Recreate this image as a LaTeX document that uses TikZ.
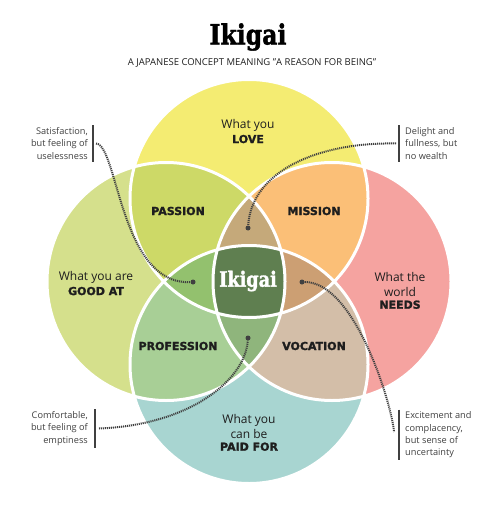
\documentclass[tikz,border=0pt]{standalone}
\usepackage{fontspec}
\setmainfont{Open Sans}
\newfontfamily\heavyfont[BoldFeatures={FakeBold=1.6}]{DejaVu Sans}
\newfontfamily\slabfont[FakeStretch=0.84, BoldFeatures={FakeBold=1.5}]{DejaVu Serif}
\usetikzlibrary{positioning}

\definecolor{love}{HTML}{F4EC72}
\definecolor{goodat}{HTML}{D5E08C}
\definecolor{needs}{HTML}{F5A3A0}
\definecolor{paidfor}{HTML}{A8D5D1}
\definecolor{passion}{HTML}{CDD967}
\definecolor{mission}{HTML}{FBBF77}
\definecolor{profession}{HTML}{A8CF96}
\definecolor{vocation}{HTML}{D3BEA8}
\definecolor{tritop}{HTML}{C5A97A}
\definecolor{trileft}{HTML}{93C16E}
\definecolor{triright}{HTML}{CC9F73}
\definecolor{tribot}{HTML}{8FB57C}
\definecolor{core}{HTML}{5F7F50}
\definecolor{ink}{HTML}{1E1E1E}
\definecolor{leadgray}{HTML}{404040}

\newcommand\circlove{(249,198.5) circle[radius=119pt]}
\newcommand\circgood{(166,281.5) circle[radius=119pt]}
\newcommand\circneeds{(332,281.5) circle[radius=119pt]}
\newcommand\circpaid{(249,364.5) circle[radius=119pt]}

\begin{document}
\begin{tikzpicture}[x=1pt, y=-1pt, every node/.style={align=center, text=ink, inner sep=0pt},
plain/.style={font=\fontsize{12}{15}\selectfont},
heavy/.style={font=\heavyfont\bfseries\fontsize{11}{14}\selectfont},
note/.style={font=\fontsize{9.2}{12.4}\selectfont, text=leadgray},
bar/.style={draw=leadgray, line width=1.3pt},
leader/.style={draw=leadgray, line width=2pt, dash pattern=on 1.1pt off 0.9pt},
dotend/.style={circle, fill=leadgray, minimum size=5pt}]
\useasboundingbox (0,0) rectangle (497,505);

% circles and overlaps
\fill[love] \circlove;
\fill[goodat] \circgood;
\fill[needs] \circneeds;
\fill[paidfor] \circpaid;
\begin{scope}
\clip \circlove;
\fill[passion] \circgood;
\fill[mission] \circneeds;
\end{scope}
\begin{scope}
\clip \circpaid;
\fill[profession] \circgood;
\fill[vocation] \circneeds;
\end{scope}
\begin{scope}
\clip \circlove; \clip \circgood;
\fill[tritop] \circneeds;
\fill[trileft] \circpaid;
\end{scope}
\begin{scope}
\clip \circpaid; \clip \circneeds;
\fill[triright] \circlove;
\fill[tribot] \circgood;
\end{scope}
\begin{scope}
\clip \circlove; \clip \circgood; \clip \circneeds;
\fill[core] \circpaid;
\end{scope}
\draw[white, line width=3pt] \circlove \circgood \circneeds \circpaid;

% titles
\node[font=\slabfont\bfseries\fontsize{28}{30}\selectfont, text=black] (title) at (248,37) {Ikigai};
\node[font=\fontsize{9.5}{11}\selectfont] (subtitle) at (252,63) {A JAPANESE CONCEPT MEANING "A REASON FOR BEING"};

% circle labels
\node[plain] (love) at (248,125) {What you};
\node[heavy, below=3.5pt of love] (lovebf) {LOVE};
\node[plain] (good) at (96,277) {What you are};
\node[heavy, below=3.5pt of good] (goodbf) {GOOD AT};
\node[plain] (needs) at (400,284.5) {What the\\world};
\node[heavy, below=3.5pt of needs] (needsbf) {NEEDS};
\node[plain] (paid) at (249,426.5) {What you\\can be};
\node[heavy, below=3.5pt of paid] (paidbf) {PAID FOR};

% overlap labels
\node[heavy] (passion) at (178,211) {PASSION};
\node[heavy] (mission) at (314,211) {MISSION};
\node[heavy] (profession) at (178,346) {PROFESSION};
\node[heavy] (vocation) at (314,346) {VOCATION};
\node[font=\slabfont\bfseries\fontsize{21}{24}\selectfont, text=white] (ikigai) at (248,281) {Ikigai};

% notes
\node[note, align=right, anchor=east] (satis) at (88,143.5) {Satisfaction,\\but feeling of\\uselessness};
\node[note, align=left, anchor=west] (delight) at (405,143.5) {Delight and\\fullness, but\\no wealth};
\node[note, align=right, anchor=east] (comfort) at (88,428.5) {Comfortable,\\but feeling of\\emptiness};
\node[note, align=left, anchor=west] (excite) at (405,435) {Excitement and\\complacency,\\but sense of\\uncertainty};
\draw[bar] ([xshift=5pt,yshift=2pt]satis.north east) -- ([xshift=5pt,yshift=-2pt]satis.south east);
\draw[bar] ([xshift=-6pt,yshift=2pt]delight.north west) -- ([xshift=-6pt,yshift=-2pt]delight.south west);
\draw[bar] ([xshift=7pt,yshift=2pt]comfort.north east) -- ([xshift=7pt,yshift=-2pt]comfort.south east);
\draw[bar] ([xshift=-6pt,yshift=2pt]excite.north west) -- ([xshift=-6pt,yshift=-2pt]excite.south west);

% leaders
\node[dotend] (dsatis) at (193,282) {};
\node[dotend] (ddelight) at (248,228) {};
\node[dotend] (dcomfort) at (248,338) {};
\node[dotend] (dexcite) at (302,282) {};
\coordinate[right=8pt of satis] (ssatis);
\coordinate[left=9pt of delight] (sdelight);
\coordinate[right=11pt of comfort] (scomfort);
\coordinate (sexcite) at (394,432);
\draw[leader] (ssatis) .. controls (118,145) and (120,285) .. (dsatis);
\draw[leader] (sdelight) .. controls (320,142) and (252,170) .. (ddelight);
\draw[leader] (scomfort) .. controls (190,425) and (245,380) .. (dcomfort);
\draw[leader] (dexcite) .. controls (355,282) and (392,405) .. (sexcite);
\end{tikzpicture}
\end{document}
